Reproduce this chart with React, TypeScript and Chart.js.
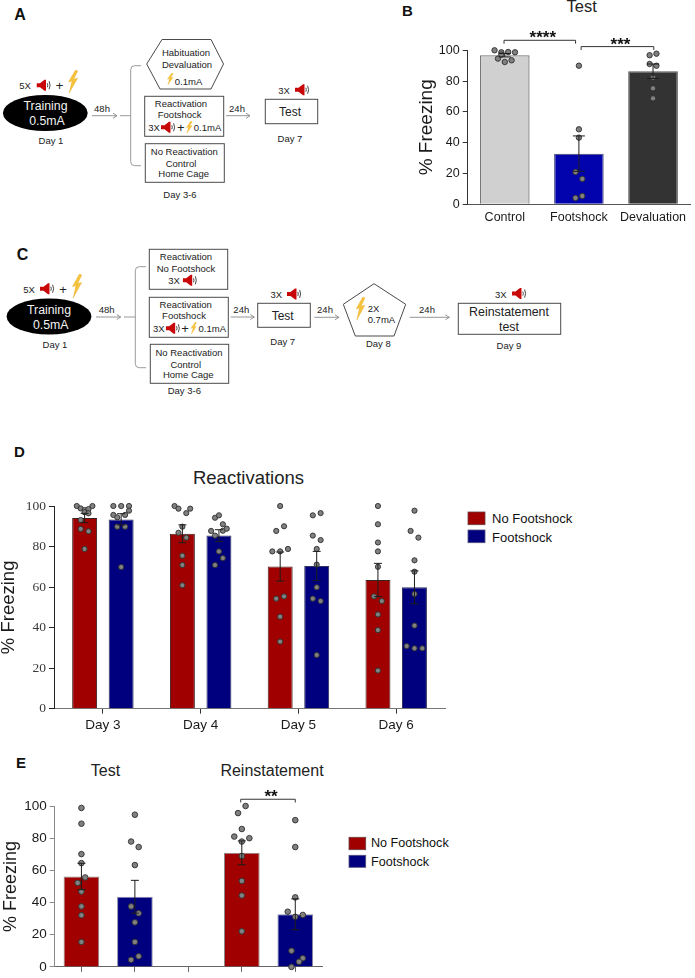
import React, { useEffect, useRef } from "react";
import { Chart, registerables } from "chart.js";

Chart.register(...registerables);

// ---------- Panel B ----------
const bCategories = ["Control", "Footshock", "Devaluation"];
const bMeans = [96.8, 32.9, 86.4];
const bSem = [1.1, 11.5, 4.7];
const bDots = [
  [100, 98.7, 98.9, 98.7, 97.2, 94.6, 93.5, 92.4],
  [90, 48.7, 43.3, 21, 16.5, 5.4, 4.1],
  [96.8, 97.8, 91.1, 90, 82.3, 75.3, 68.8],
];
const bSlots = [
  [-3, -1, 1, 3, -1, -2, 2, 0],
  [0, 0, 0, -1, 1, 1, -1],
  [-1, 1, -1, 1, 0, 0, 0],
];

// ---------- Panel D ----------
const dDays = ["Day 3", "Day 4", "Day 5", "Day 6"];
const dNoFootshockMeans = [94.1, 86.3, 70.1, 63.5];
const dFootshockMeans = [93.4, 85.4, 70.4, 59.9];
const dNoFootshockSem = [2.3, 4.4, 7.2, 8.2];
const dFootshockSem = [2.8, 2.9, 7.2, 8.1];
const dNoFootshockDots = [
  [100, 98.8, 98, 98.5, 100, 96.9, 96.4, 93.1, 88.7, 87.5, 78.8],
  [100, 98.7, 96.5, 98.7, 89.8, 86.8, 84.4, 75.5, 70.9, 60.9],
  [100, 90, 87.7, 78.8, 77.6, 77.6, 54.3, 55.4, 45.4, 33.1],
  [100, 91, 82, 77.6, 70, 55.4, 53.1, 46.5, 38.8, 18.8],
];
const dNoFootshockSlots = [
  [-2, -1, 0, 1, 2, 0, 1, -1, -1, 1, 0],
  [-2, -1, 1, 2, 0, -1, 1, 0, 0, 0],
  [0, 1, -1, 2, -2, 0, -1, 1, 0, 0],
  [0, 0, 0, 0, 0, -1, 1, 0, 0, 0],
];
const dFootshockDots = [
  [100, 100, 100, 97.7, 95.6, 95.6, 94.4, 89.8, 89.8, 69.9],
  [94.2, 95.4, 91, 87.7, 87.8, 88.8, 85.4, 77.6, 74.3, 70.9],
  [95.4, 96.5, 85.4, 83.2, 78.8, 71.1, 59.9, 54.3, 53.1, 26.5],
  [97.7, 87.7, 84.4, 73.2, 67.6, 56.6, 41, 30.9, 29.8, 29.8],
];
const dFootshockSlots = [
  [-2, 0, 2, 2, -2, 1, -1, -1, 1, 0],
  [-1, 0, 1, -2, 1, 2, -1, 0, 1, -1],
  [-1, 1, -1, 1, 0, 0, 0, -1, 1, 0],
  [0, -1, 1, 0, 0, 0, 0, -2, 0, 2],
];

// ---------- Panel E ----------
const eCategories = ["Test No Footshock", "Test Footshock", "", "Reinstatement No Footshock", "Reinstatement Footshock"];
const eMeans = [56.2, 43.6, null, 70.9, 32.7];
const eSem = [8.2, 10.2, null, 7.4, 9.6];
const eDots = [
  [98.8, 89, 70.1, 64.5, 55.6, 52.2, 46.8, 37.6, 32.1, 15.5],
  [94.6, 77.9, 74.5, 63.3, 37.6, 33.3, 27.7, 15.5, 6.6, 4.4],
  [],
  [100, 95.6, 85.7, 81, 80, 77.9, 68.9, 53.4, 44.4, 22.1],
  [91.2, 74.5, 43.2, 34.3, 32.3, 31.1, 10, 5.4, 3.2, 0],
];
const eSlots = [
  [0, 0, 0, 0, 1, -1, 0, 0, 0, 0],
  [0, -1, 1, 0, -1, 1, 0, 0, 1, -1],
  [],
  [1, -1, 0, -2, 2, 0, 0, 0, 0, 0],
  [0, 0, 0, -2, 2, 0, -1, 2, 1, -1],
];

const SANS = "'Liberation Sans', Arial, sans-serif";
const SERIF = "'Liberation Serif', 'Times New Roman', serif";
const RED = "#a00000";
const BLUE = "#00007f";
const DOT_FILL = "#808080";
const DOT_EDGE = "#2e2e2e";

function dotPoints(center: number, values: number[], slots: number[], slotWidth: number) {
  return values.map((y, i) => ({ x: center + slots[i] * slotWidth, y }));
}

function barPoints(values: (number | null)[]) {
  return values.map((y, x) => ({ x, y }));
}

function dotDataset(points: any[], radius: number) {
  return {
    type: "scatter",
    data: points,
    pointRadius: radius,
    pointBackgroundColor: DOT_FILL,
    pointBorderColor: DOT_EDGE,
    pointBorderWidth: 0.9,
    clip: false,
    order: 1,
  };
}

// Draws error bars on the bars and significance brackets, through the chart's scales.
function annotations(errors: any[], capHalf: number, brackets: any[]) {
  return {
    id: "annotations",
    afterDatasetsDraw(chart: any) {
      const { ctx, scales } = chart;
      const y = scales.y;
      ctx.save();
      ctx.lineWidth = 1;
      ctx.strokeStyle = "#1c1c1c";
      errors.forEach((group: any) => {
        const meta = chart.getDatasetMeta(group.dataset);
        group.means.forEach((mean: number | null, i: number) => {
          if (mean == null) return;
          const x = meta.data[i].x;
          const hi = y.getPixelForValue(mean + group.sem[i]);
          const lo = y.getPixelForValue(mean - group.sem[i]);
          ctx.beginPath();
          ctx.moveTo(x, hi);
          ctx.lineTo(x, lo);
          ctx.moveTo(x - capHalf, hi);
          ctx.lineTo(x + capHalf, hi);
          ctx.moveTo(x - capHalf, lo);
          ctx.lineTo(x + capHalf, lo);
          ctx.stroke();
        });
      });
      brackets.forEach((b: any) => {
        const x0 = scales.x.getPixelForValue(b.from);
        const x1 = scales.x.getPixelForValue(b.to);
        const yTop = y.getPixelForValue(b.value);
        const yEnd = y.getPixelForValue(b.end);
        ctx.strokeStyle = "#333";
        ctx.beginPath();
        ctx.moveTo(x0, yEnd);
        ctx.lineTo(x0, yTop);
        ctx.lineTo(x1, yTop);
        ctx.lineTo(x1, yEnd);
        ctx.stroke();
        ctx.fillStyle = "#111";
        ctx.font = `bold 17px ${SANS}`;
        ctx.textAlign = "center";
        ctx.textBaseline = "alphabetic";
        ctx.fillText(b.label, (x0 + x1) / 2 + 3, yTop + 3);
      });
      ctx.restore();
    },
  };
}

function yAxis(opts: any) {
  return {
    type: "linear",
    min: 0,
    max: 100,
    afterFit: (s: any) => { s.width = opts.width; },
    border: { display: true, color: opts.axisColor, width: 1 },
    grid: { drawOnChartArea: false, drawTicks: true, tickLength: 5, tickColor: opts.axisColor, tickWidth: 1 },
    ticks: {
      stepSize: 20,
      padding: 3,
      color: opts.labelColor,
      font: { family: opts.family, size: opts.size },
    },
    title: {
      display: true,
      text: "% Freezing",
      color: "#1a1a1a",
      padding: { top: opts.titleOffset, bottom: 0 },
      font: { family: SANS, size: opts.titleSize, lineHeight: 1 },
    },
  };
}

function xAxis(opts: any) {
  const labels: string[] = opts.labels;
  return {
    type: "linear",
    min: -0.5,
    max: labels.length - 0.5,
    offset: false,
    afterFit: (s: any) => { s.height = opts.height; },
    afterBuildTicks: (s: any) => { s.ticks = labels.map((_, value) => ({ value })); },
    border: { display: true, color: opts.axisColor, width: 1 },
    grid: {
      offset: false,
      drawOnChartArea: false,
      drawTicks: opts.ticks,
      tickLength: opts.ticks ? 5 : 0,
      tickColor: opts.tickColor || opts.axisColor,
    },
    ticks: {
      autoSkip: false,
      maxRotation: 0,
      padding: opts.padding,
      color: "#1a1a1a",
      font: { family: SANS, size: opts.size },
      callback: (v: number) => (opts.hideLabels ? "" : labels[v]),
    },
  };
}

const baseOptions = {
  animation: false,
  responsive: false,
  maintainAspectRatio: false,
  events: [],
  plugins: { legend: { display: false }, tooltip: { enabled: false }, title: { display: false } },
};

function buildB(canvas: HTMLCanvasElement) {
  return new Chart(canvas, {
    type: "bar",
    data: {
      datasets: [
        {
          data: barPoints(bMeans),
          backgroundColor: ["#d0d0d0", "#0303ae", "#333333"],
          borderColor: ["#777777", "#5a5a8c", "#555555"],
          borderWidth: 1.3,
          categoryPercentage: 1,
          barPercentage: 0.67,
          order: 2,
        },
        ...bDots.map((vals, i) => dotDataset(dotPoints(i, vals, bSlots[i], 0.046), 2.7)),
      ] as any,
    },
    options: {
      ...baseOptions,
      layout: { padding: { left: 0, right: 2, top: 50.3, bottom: 0 } },
      scales: {
        x: xAxis({ labels: bCategories, height: 30.7, axisColor: "#555", ticks: false, padding: 6, size: 12.5 }),
        y: yAxis({ width: 72.7, axisColor: "#333", labelColor: "#1a1a1a", family: SANS, size: 12.5, titleOffset: 22, titleSize: 19 }),
      },
    } as any,
    plugins: [
      annotations([{ dataset: 0, means: bMeans, sem: bSem }], 6, [
        { from: -0.01, to: 0.955, value: 106.5, end: 104.3, label: "****" },
        { from: 1.03, to: 2.01, value: 102.4, end: 100.2, label: "***" },
      ]),
    ],
  } as any);
}

function buildD(canvas: HTMLCanvasElement) {
  const shift = 0.187;
  const slot = 0.04;
  const bar = {
    borderWidth: 1,
    categoryPercentage: 0.747,
    barPercentage: 0.683,
    order: 2,
  };
  return new Chart(canvas, {
    type: "bar",
    data: {
      datasets: [
        { ...bar, data: barPoints(dNoFootshockMeans), backgroundColor: RED, borderColor: "#3d2020" },
        { ...bar, data: barPoints(dFootshockMeans), backgroundColor: BLUE, borderColor: "#30305c" },
        ...dNoFootshockDots.map((vals, i) => dotDataset(dotPoints(i - shift, vals, dNoFootshockSlots[i], slot), 2.6)),
        ...dFootshockDots.map((vals, i) => dotDataset(dotPoints(i + shift, vals, dFootshockSlots[i], slot), 2.6)),
      ] as any,
    },
    options: {
      ...baseOptions,
      layout: { padding: { left: 0, right: 3, top: 16, bottom: 0 } },
      scales: {
        x: xAxis({ labels: dDays, height: 31.3, axisColor: "#777", tickColor: "#333", ticks: true, padding: 3, size: 13.5 }),
        y: yAxis({ width: 54, axisColor: "#222", labelColor: "#3a3a3a", family: SERIF, size: 13.5, titleOffset: 0, titleSize: 18.5 }),
      },
    } as any,
    plugins: [
      annotations(
        [
          { dataset: 0, means: dNoFootshockMeans, sem: dNoFootshockSem },
          { dataset: 1, means: dFootshockMeans, sem: dFootshockSem },
        ],
        4,
        []
      ),
    ],
  } as any);
}

function buildE(canvas: HTMLCanvasElement) {
  return new Chart(canvas, {
    type: "bar",
    data: {
      datasets: [
        {
          data: barPoints(eMeans),
          backgroundColor: [RED, BLUE, RED, RED, BLUE],
          borderColor: ["#8a8a8a", "#8a8aa8", "#8a8a8a", "#8a8a8a", "#8a8aa8"],
          borderWidth: 1,
          categoryPercentage: 1,
          barPercentage: 0.667,
          order: 2,
        },
        ...eDots.map((vals, i) => dotDataset(dotPoints(i, vals, eSlots[i], 0.0706), 2.8)),
      ] as any,
    },
    options: {
      ...baseOptions,
      layout: { padding: { left: 0, right: 18, top: 26, bottom: 0 } },
      scales: {
        x: xAxis({ labels: eCategories, height: 4.7, axisColor: "#666", ticks: true, padding: 0, size: 10, hideLabels: true }),
        y: yAxis({ width: 54.7, axisColor: "#8a8a8a", labelColor: "#1a1a1a", family: SANS, size: 13.5, titleOffset: 2.5, titleSize: 18 }),
      },
    } as any,
    plugins: [
      annotations([{ dataset: 0, means: eMeans, sem: eSem }], 4, [
        { from: 2.98, to: 4, value: 104.2, end: 102.2, label: "**" },
      ]),
    ],
  } as any);
}

// ---------- Schematic helpers ----------
function T({ x, y, s = 9.5, a = "middle", c = "#222", w = 400, children }: any) {
  return (
    <text x={x} y={y} fontSize={s} textAnchor={a} fill={c} fontWeight={w} dominantBaseline="central" fontFamily={SANS}>
      {children}
    </text>
  );
}

function Speaker({ x, y, w = 15, h = 12.5 }: any) {
  return (
    <svg x={x} y={y} width={w} height={h} viewBox="0 0 15 12">
      <polygon points="0,4 3.5,4 8,0.5 9.5,0.5 9.5,11.5 8,11.5 3.5,8 0,8" fill="#c80808" />
      <path d="M10.8,4 Q11.8,6 10.8,8 M12.6,2 Q14.6,6 12.6,10" fill="none" stroke="#333" strokeWidth={0.9} />
    </svg>
  );
}

function Bolt({ x, y, w = 10, h = 23 }: any) {
  return (
    <svg x={x} y={y} width={w} height={h} viewBox="0 0 10 24" preserveAspectRatio="none">
      <polygon points="7.5,0 0.5,12.5 4,11.5 1.2,24 9.6,8.5 5.6,9.6 9.8,1" fill="#f6c33c" stroke="#e9a820" strokeWidth={0.4} />
    </svg>
  );
}

function Arrow({ x0, x1, y }: any) {
  return (
    <g stroke="#8a8a8a" strokeWidth={0.9} fill="none">
      <line x1={x0} y1={y} x2={x1} y2={y} />
      <polyline points={`${x1 - 4},${y - 2.5} ${x1},${y} ${x1 - 4},${y + 2.5}`} />
    </g>
  );
}

function Bracket({ x0, xv, x1, y0, ym, y1 }: any) {
  return (
    <path
      d={`M${x1},${y0} H${xv + 4} Q${xv},${y0} ${xv},${y0 + 4} V${y1 - 4} Q${xv},${y1} ${xv + 4},${y1} H${x1} M${x0},${ym} H${xv}`}
      fill="none"
      stroke="#8f8f8f"
      strokeWidth={0.9}
    />
  );
}

function Box({ x0, y0, x1, y1 }: any) {
  return <rect x={x0} y={y0} width={x1 - x0} height={y1 - y0} fill="#fff" stroke="#4a4a4a" strokeWidth={1} />;
}

function Training({ cx, cy, t1x, t2x }: any) {
  return (
    <g>
      <ellipse cx={cx} cy={cy} rx={42.4} ry={18} fill="#000" />
      <T x={t1x} y={cy - 7} s={12.3} c="#f2f2f2">Training</T>
      <T x={t2x} y={cy + 8} s={12.3} c="#f2f2f2">0.5mA</T>
    </g>
  );
}

function Schematic() {
  return (
    <svg width={695} height={978} style={{ position: "absolute", left: 0, top: 0 }}>
      {/* Panel letters */}
      <T x={20} y={14} s={16} w={700} c="#111">A</T>
      <T x={407.5} y={10} s={15} w={700} c="#111">B</T>
      <T x={22.5} y={254} s={16} w={700} c="#111">C</T>
      <T x={19.5} y={451} s={15} w={700} c="#111">D</T>
      <T x={21} y={762} s={15} w={700} c="#111">E</T>

      {/* Panel A */}
      <T x={25} y={85}>5X</T>
      <Speaker x={36.5} y={79} />
      <T x={59.5} y={85} s={13}>+</T>
      <Bolt x={68} y={70} />
      <Training cx={45.3} cy={113} t1x={45.5} t2x={47} />
      <T x={51} y={140}>Day 1</T>
      <T x={102} y={108}>48h</T>
      <Arrow x0={92} x1={117} y={115.7} />
      <Bracket x0={120} xv={130.7} x1={141} y0={65.7} ym={115.7} y1={165.7} />
      <polygon points="162,39.5 211,39.5 223.5,64 211,89 160,89 146.7,64" fill="#fff" stroke="#4a4a4a" strokeWidth={1} />
      <T x={186} y={52}>Habituation</T>
      <T x={187} y={64}>Devaluation</T>
      <Bolt x={167} y={73} w={6.5} h={12} />
      <T x={188.5} y={81}>0.1mA</T>
      <Box x0={144.7} y0={96.3} x1={223.7} y1={136.3} />
      <T x={181} y={103}>Reactivation</T>
      <T x={179.7} y={114.7}>Footshock</T>
      <T x={154} y={127}>3X</T>
      <Speaker x={161} y={121} />
      <T x={180.7} y={127} s={13}>+</T>
      <Bolt x={186} y={121} w={6.5} h={12.5} />
      <T x={207.5} y={127}>0.1mA</T>
      <Box x0={145.3} y0={143.7} x1={224.3} y1={182.3} />
      <T x={184.3} y={151}>No Reactivation</T>
      <T x={181} y={163}>Control</T>
      <T x={183.7} y={173}>Home Cage</T>
      <T x={180} y={194}>Day 3-6</T>
      <T x={237} y={108}>24h</T>
      <Arrow x0={226} x1={250} y={115.7} />
      <T x={284} y={90}>3X</T>
      <Speaker x={295} y={83.5} />
      <Box x0={265.3} y0={99.3} x1={317.7} y1={123.7} />
      <T x={290} y={112} s={12}>Test</T>
      <T x={290} y={138}>Day 7</T>

      {/* Panel C */}
      <T x={29} y={289}>5X</T>
      <Speaker x={40} y={282.5} />
      <T x={63} y={289} s={13}>+</T>
      <Bolt x={72} y={274} h={24} />
      <Training cx={49} cy={316.5} t1x={49} t2x={50.7} />
      <T x={55} y={344}>Day 1</T>
      <T x={106.7} y={309}>48h</T>
      <Arrow x0={96} x1={120.7} y={317} />
      <Bracket x0={124} xv={135.3} x1={146} y0={266.7} ym={317} y1={367.7} />
      <Box x0={149.3} y0={249.3} x1={227.7} y1={289.3} />
      <T x={186} y={256.7}>Reactivation</T>
      <T x={186} y={268.3}>No Footshock</T>
      <T x={174} y={280}>3X</T>
      <Speaker x={182.7} y={274} />
      <Box x0={149.3} y0={297.3} x1={228.3} y1={337.3} />
      <T x={185.7} y={304}>Reactivation</T>
      <T x={184} y={315.7}>Footshock</T>
      <T x={158.7} y={328}>3X</T>
      <Speaker x={165.7} y={322} />
      <T x={185} y={328} s={13}>+</T>
      <Bolt x={190.7} y={322} w={6} h={12} />
      <T x={212.3} y={328}>0.1mA</T>
      <Box x0={150.3} y0={344.3} x1={228.7} y1={383.3} />
      <T x={189} y={352.3}>No Reactivation</T>
      <T x={185.7} y={364.3}>Control</T>
      <T x={188.3} y={374.3}>Home Cage</T>
      <T x={184.3} y={390}>Day 3-6</T>
      <T x={241.3} y={309.7}>24h</T>
      <Arrow x0={230.7} x1={254.3} y={317} />
      <T x={276.3} y={294.3}>3X</T>
      <Speaker x={287} y={287.7} />
      <Box x0={257.7} y0={303.3} x1={310.3} y1={327.3} />
      <T x={282.7} y={315.7} s={12}>Test</T>
      <T x={282.7} y={341.7}>Day 7</T>
      <T x={325} y={309}>24h</T>
      <Arrow x0={314.3} x1={339} y={317.3} />
      <polygon points="374,283.7 405.7,304.3 394,336 355.3,336 343.3,304.3" fill="#fff" stroke="#4a4a4a" strokeWidth={1} />
      <Bolt x={355.7} y={297} w={9.5} h={23} />
      <T x={367.7} y={308} a="start">2X</T>
      <T x={367.7} y={319.7} a="start">0.7mA</T>
      <T x={378.3} y={343.3}>Day 8</T>
      <T x={427} y={309}>24h</T>
      <Arrow x0={409.7} x1={449.3} y={317.3} />
      <T x={500.7} y={294}>3X</T>
      <Speaker x={512} y={287.3} />
      <Box x0={458.3} y0={303.3} x1={560.7} y1={334.3} />
      <T x={509} y={312.3} s={12.4}>Reinstatement</T>
      <T x={509} y={327.3} s={12.4}>test</T>
      <T x={509} y={345.3}>Day 9</T>

      {/* Titles */}
      <T x={581.7} y={6} s={16.5}>Test</T>
      <T x={248.5} y={477} s={18.5}>Reactivations</T>
      <T x={105.5} y={770} s={16}>Test</T>
      <T x={272} y={770} s={16}>Reinstatement</T>

      {/* Legend D */}
      <rect x={468} y={512} width={17} height={12.7} fill={RED} stroke="#6a4040" strokeWidth={0.8} />
      <rect x={468} y={530} width={17} height={12.7} fill={BLUE} stroke="#50507a" strokeWidth={0.8} />
      <T x={492} y={518} s={13} a="start" c="#111">No Footshock</T>
      <T x={492} y={537} s={13} a="start" c="#111">Footshock</T>

      {/* Legend E */}
      <rect x={349} y={837.3} width={16.7} height={12.4} fill={RED} stroke="#6a4040" strokeWidth={0.8} />
      <rect x={349} y={855.3} width={16.7} height={12} fill={BLUE} stroke="#50507a" strokeWidth={0.8} />
      <T x={371} y={843} s={12.6} a="start" c="#111">No Footshock</T>
      <T x={371} y={862} s={12.6} a="start" c="#111">Footshock</T>
    </svg>
  );
}

export default function App() {
  const bRef = useRef<HTMLCanvasElement>(null);
  const dRef = useRef<HTMLCanvasElement>(null);
  const eRef = useRef<HTMLCanvasElement>(null);

  useEffect(() => {
    document.body.style.margin = "0";
    const charts = [buildB(bRef.current!), buildD(dRef.current!), buildE(eRef.current!)];
    return () => charts.forEach((c) => c.destroy());
  }, []);

  const place = (left: number, top: number, width: number, height: number): any => ({
    position: "absolute",
    left,
    top,
    width,
    height,
    display: "block",
  });

  return (
    <div style={{ position: "absolute", left: 0, top: 0, width: 695, height: 978, overflow: "hidden", background: "#fff" }}>
      <Schematic />
      <canvas ref={bRef} width={300} height={235} style={place(395, 0, 300, 235)} />
      <canvas ref={dRef} width={450} height={250} style={place(0, 490, 450, 250)} />
      <canvas ref={eRef} width={340} height={198} style={place(0, 780, 340, 198)} />
    </div>
  );
}
